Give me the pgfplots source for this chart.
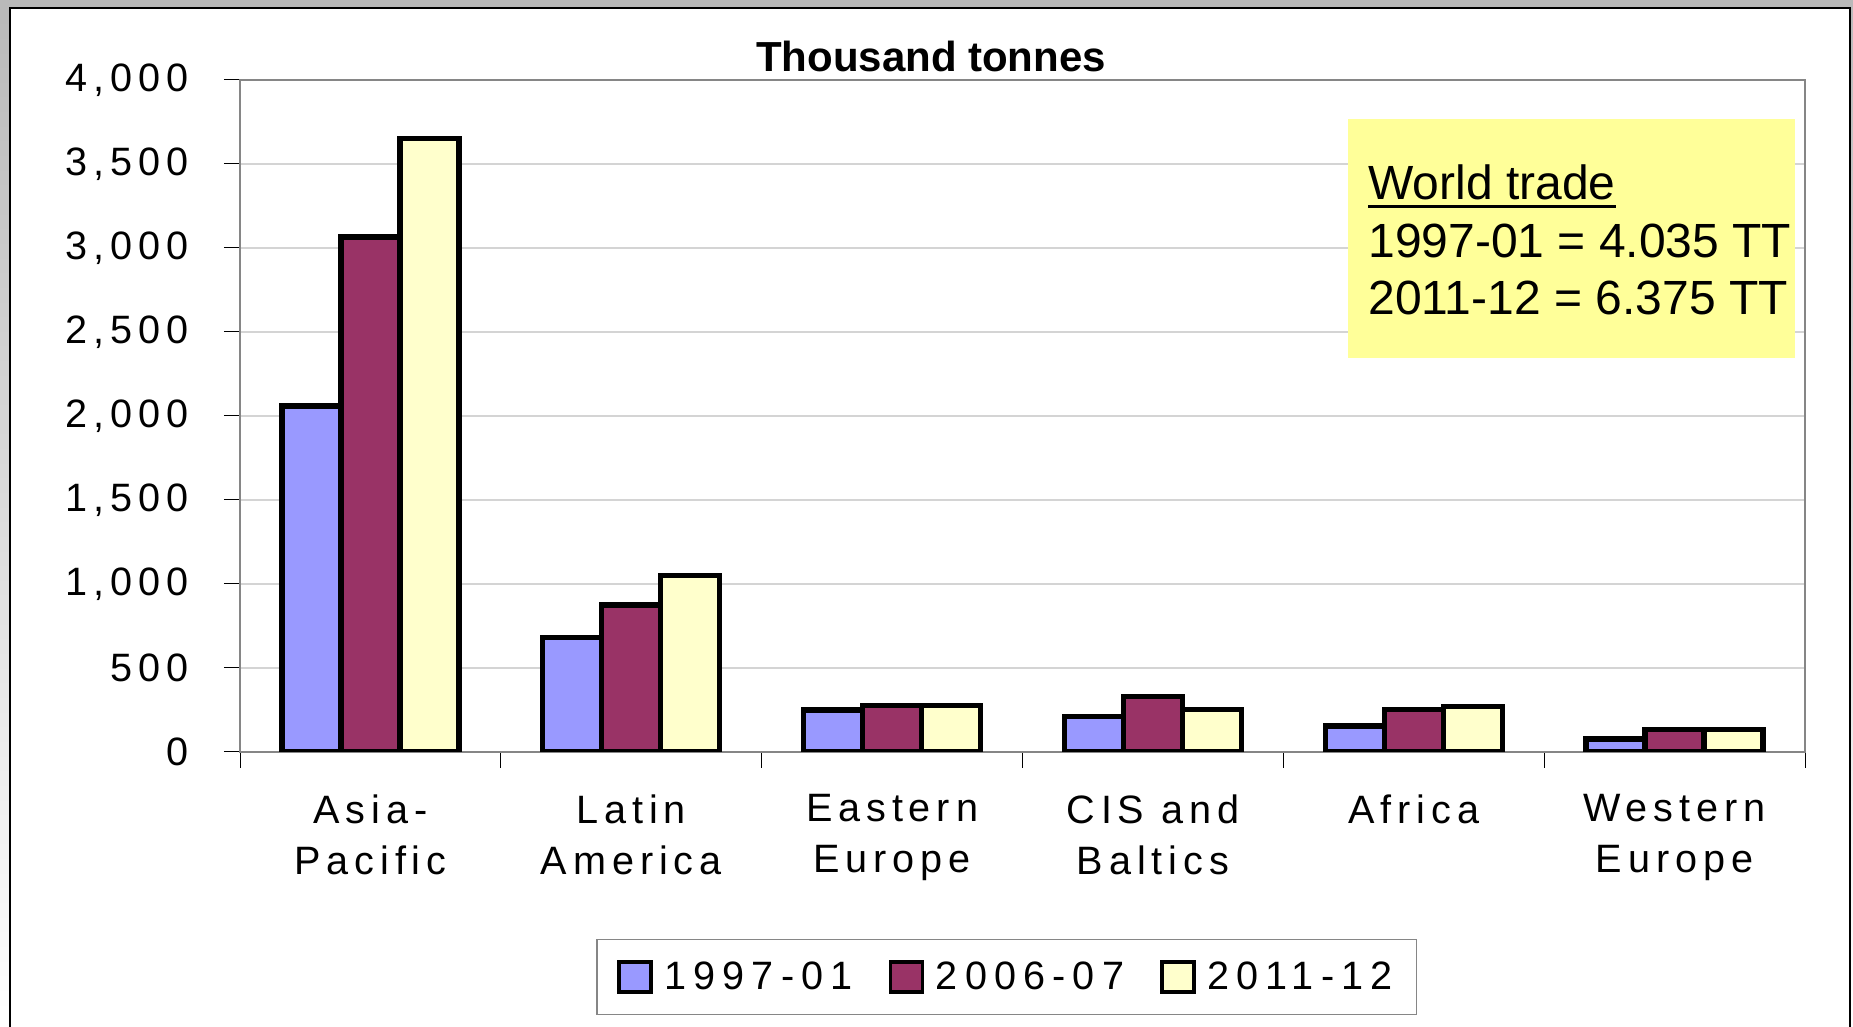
\documentclass[border=0pt]{standalone}
\usepackage{fontspec}
\setmainfont{Liberation Sans}
\newfontfamily\spaced[LetterSpace=15]{Liberation Sans}
\newfontfamily\legspaced[LetterSpace=18]{Liberation Sans}
\usepackage{pgfplots}
\pgfplotsset{compat=1.18}
\definecolor{c1}{HTML}{9999FF}
\definecolor{c2}{HTML}{993366}
\definecolor{c3}{HTML}{FFFFCC}
\definecolor{boxy}{HTML}{FFFF99}
\definecolor{axgray}{HTML}{868686}
\definecolor{gridgray}{HTML}{D4D4D4}
\newcommand\lblfont{\spaced\fontsize{19.8pt}{25.5pt}\selectfont}
\newcommand\legfont{\legspaced\fontsize{19.8pt}{25.5pt}\selectfont}
\newcommand\boxfont{\fontsize{24pt}{28.75pt}\selectfont}
\begin{document}
\begin{tikzpicture}
\useasboundingbox (0,0) rectangle (926.5pt,513.5pt);
\shade[top color=gray!55, bottom color=white] (0,0) rectangle (926.5pt,513.5pt);
\filldraw[fill=white, draw=black, line width=1pt] (5pt,-5pt) rectangle (925pt,509.5pt);
\begin{axis}[
  at={(120pt,137.5pt)}, anchor=south west,
  scale only axis, width=782.5pt, height=336pt,
  ybar=0pt, bar width=29.5pt,
  xmin=-0.5, xmax=5.5, ymin=0, ymax=4000,
  xtick={-0.5,0.5,...,5.5}, xticklabels={,,,,,,,},
  extra x ticks={0,1,2,3,4,5},
  extra x tick labels={{Asia-\\Pacific},{Latin\\America},{Eastern\\Europe},{CIS and\\Baltics},{Africa},{Western\\Europe}},
  extra x tick style={major tick length=0pt, grid=none},
  ytick={0,500,...,4000},
  ymajorgrids, xmajorgrids=false,
  major grid style={gridgray, line width=0.6pt},
  axis line style={axgray, line width=1.3pt},
  tick align=outside, xtick pos=bottom, ytick pos=left,
  major tick length=8pt,
  tick style={black, line width=0.5pt},
  xticklabel style={font=\lblfont, align=center, anchor=north, inner sep=0pt, yshift=-21pt},
  yticklabel style={font=\lblfont, anchor=east, inner sep=0pt, xshift=-17.5pt},
  scaled y ticks=false,
  yticklabel={\pgfmathprintnumber[1000 sep={,}, assume math mode=true]{\tick}},
  legend style={at={(0.49,-0.335)}, anchor=center, draw=axgray, line width=0.6pt,
    font=\legfont, legend columns=3,
    /tikz/every even column/.append style={column sep=16pt},
    inner xsep=10pt, inner ysep=9pt},
  legend image code/.code={\draw[#1, line width=1.8pt] (0pt,-7.5pt) rectangle (16pt,7.5pt); \path (19.5pt,0pt);},
]
\addplot[fill=c1, draw=black, line width=2.6pt] coordinates {(0,2060) (1,680) (2,250) (3,212) (4,155) (5,77)};
\addplot[fill=c2, draw=black, line width=2.6pt] coordinates {(0,3065) (1,875) (2,275) (3,330) (4,252) (5,135)};
\addplot[fill=c3, draw=black, line width=2.6pt] coordinates {(0,3650) (1,1050) (2,275) (3,252) (4,272) (5,135)};
\legend{1997-01, 2006-07, 2011-12}
\end{axis}
\node[anchor=base, font=\bfseries\fontsize{21pt}{24pt}\selectfont] at (465.5pt,477.5pt) {Thousand tonnes};
\fill[boxy] (674pt,334.5pt) rectangle (897.5pt,454pt);
\node[anchor=base west, inner sep=0pt, font=\boxfont] (w) at (684pt,413.5pt) {World trade};
\draw[line width=1.5pt] ([yshift=-3.5pt]w.base west) -- ([yshift=-3.5pt]w.base east);
\node[anchor=base west, inner sep=0pt, font=\boxfont] at (684pt,384.5pt) {1997-01 = 4.035 TT};
\node[anchor=base west, inner sep=0pt, font=\boxfont] at (684pt,356pt) {2011-12 = 6.375 TT};
\end{tikzpicture}
\end{document}
